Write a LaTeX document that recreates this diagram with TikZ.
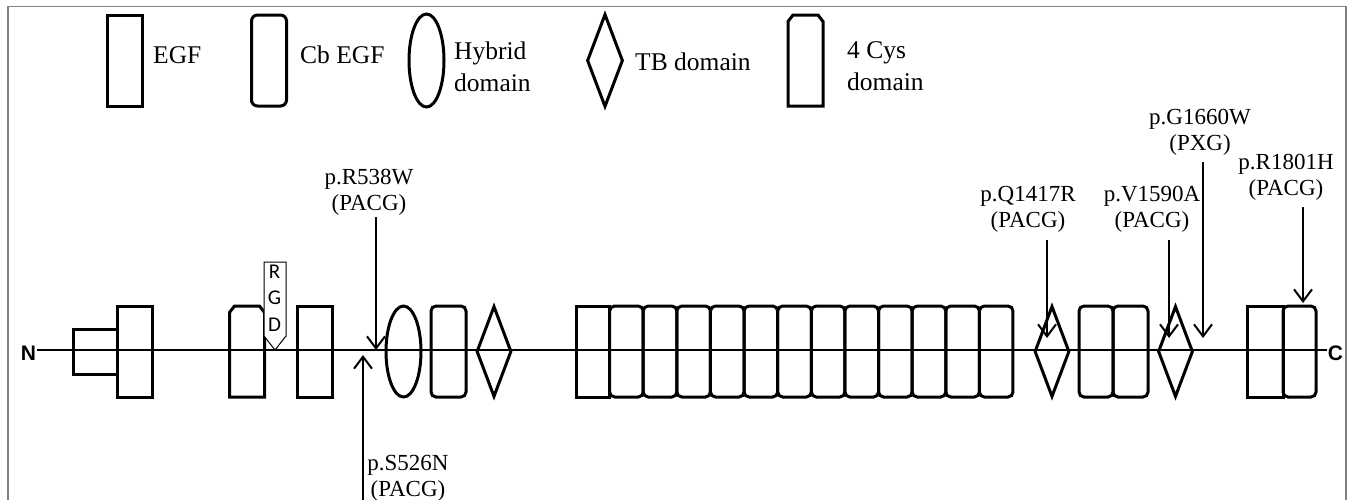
\documentclass[tikz,border=0pt]{standalone}
\usepackage{fontspec}
\setmainfont{Liberation Serif}
\newfontfamily\labsans{Liberation Sans}
\newfontfamily\rgdfont{Carlito}
\usetikzlibrary{shapes.geometric,arrows.meta}
\tikzset{
  dom/.style={draw, line width=3pt, inner sep=0pt, minimum width=35pt, minimum height=91pt},
  egf/.style={dom, rectangle},
  cbegf/.style={dom, rectangle, rounded corners=5pt},
  hyb/.style={dom, ellipse},
  tbd/.style={dom, diamond},
  legtext/.style={font=\fontsize{25.5}{32}\selectfont, inner sep=0pt, align=left},
  mutlab/.style={font=\fontsize{23}{26}\selectfont, inner sep=0pt, align=center},
  mut/.style={line width=2pt, -{Straight Barb[length=12pt,width=18pt]}},
  mainline/.style={line width=2pt},
  endlab/.style={font=\labsans\bfseries\fontsize{21}{21}\selectfont, inner sep=1pt},
  frameline/.style={draw=black!50, line width=1.5pt},
  cyspic/.pic={
    \draw[line width=3pt] (-17.5,45.5) -- (-17.5,-39) -- (-12.5,-45.5) -- (12.5,-45.5) -- (17.5,-39) -- (17.5,45.5) -- cycle;
    \coordinate (-c) at (0,0);
  }
}
\begin{document}
\begin{tikzpicture}[x=1pt,y=-1pt]
\useasboundingbox (0,0) rectangle (1350,499);
% frame
\draw[frameline] (8,505) -- (8,6.5) -- (1346,6.5) -- (1346,505);

% legend
\node[egf] (lgegf) at (124.5,60.5) {};
\node[legtext, anchor=base west] (lgegft) at (153,63) {EGF};
\node[cbegf, rounded corners=6pt] (lgcb) at (269,60.5) {};
\node[legtext, anchor=base west] (lgcbt) at (300,63) {Cb EGF};
\node[hyb, minimum height=93pt] (lghyb) at (426.5,60.5) {};
\node[legtext, anchor=west] (lghybt) at (454,66.5) {Hybrid\\domain};
\node[tbd, minimum height=93pt, minimum width=36pt] (lgtb) at (605,60.5) {};
\node[legtext, anchor=base west] (lgtbt) at (635,70) {TB domain};
\pic (lgcys) at (805.5,60.5) {cyspic};
\node[legtext, anchor=west] (lgcyst) at (847,66.5) {4 Cys\\domain};

% main line
\coordinate (lineY) at (0,350);
\node[endlab] (N) at (28.5,353) {N};
\node[endlab] (C) at (1335.5,353) {C};
\draw[mainline] (N.east |- lineY) -- (C.west |- lineY);

% domains
\node[egf, minimum width=44pt, minimum height=45pt] (d0) at (95,351.5) {};
\node[egf] (d1) at (134.5,351.5) {};
\pic (d2) at (247,351.5) {cyspic};
% RGD
\draw[line width=1pt, fill=white] (264,262) -- (286,262) -- (286,336) -- (275,350) -- (264,336) -- cycle;
\node[font=\rgdfont\fontsize{21}{26.5}\selectfont, align=center, inner sep=0pt] (rgd) at (274.5,298) {R\\G\\D};
\node[egf] (d3) at (314.5,351.5) {};
\node[hyb] (d4) at (403.5,351.5) {};
\node[cbegf] (d5) at (448.5,351.5) {};
\node[tbd] (d6) at (494,351.5) {};
% block of 13
\node[egf, minimum width=33.6pt] (b0) at (592.8,351.5) {};
\foreach \i in {1,...,12}{
  \node[cbegf, minimum width=33.6pt] (b\i) at ({576+33.615*(\i+0.5)},351.5) {};
}
\node[tbd] (d7) at (1052,351.5) {};
\node[cbegf, minimum width=34pt] (d8) at (1096,351.5) {};
\node[cbegf, minimum width=35pt] (d9) at (1130.5,351.5) {};
\node[tbd] (d10) at (1175.5,351.5) {};
\node[egf, minimum width=36pt] (d11) at (1265,351.5) {};
\node[cbegf, minimum width=33pt] (d12) at (1299.5,351.5) {};

% mutations
\node[mutlab] (m1) at (369,192) {p.R538W\\(PACG)};
\coordinate (m1s) at (376,217); \coordinate (m1e) at (376,350);
\draw[mut] (m1s) -- (m1e);

\node[mutlab] (m2) at (408,478) {p.S526N\\(PACG)};
\coordinate (m2s) at (363,505); \coordinate (m2e) at (363,355);
\draw[mut] (m2s) -- (m2e);

\node[mutlab] (m3) at (1028,209) {p.Q1417R\\(PACG)};
\coordinate (m3s) at (1047,240); \coordinate (m3e) at (1047,338);
\draw[mut] (m3s) -- (m3e);

\node[mutlab] (m4) at (1152,209) {p.V1590A\\(PACG)};
\coordinate (m4s) at (1169,240); \coordinate (m4e) at (1169,338);
\draw[mut] (m4s) -- (m4e);

\node[mutlab] (m5) at (1200,132) {p.G1660W\\(PXG)};
\coordinate (m5s) at (1203,162); \coordinate (m5e) at (1203,338);
\draw[mut] (m5s) -- (m5e);

\node[mutlab] (m6) at (1286,177) {p.R1801H\\(PACG)};
\coordinate (m6s) at (1303,207); \coordinate (m6e) at (1303,303);
\draw[mut] (m6s) -- (m6e);
\end{tikzpicture}
\end{document}
